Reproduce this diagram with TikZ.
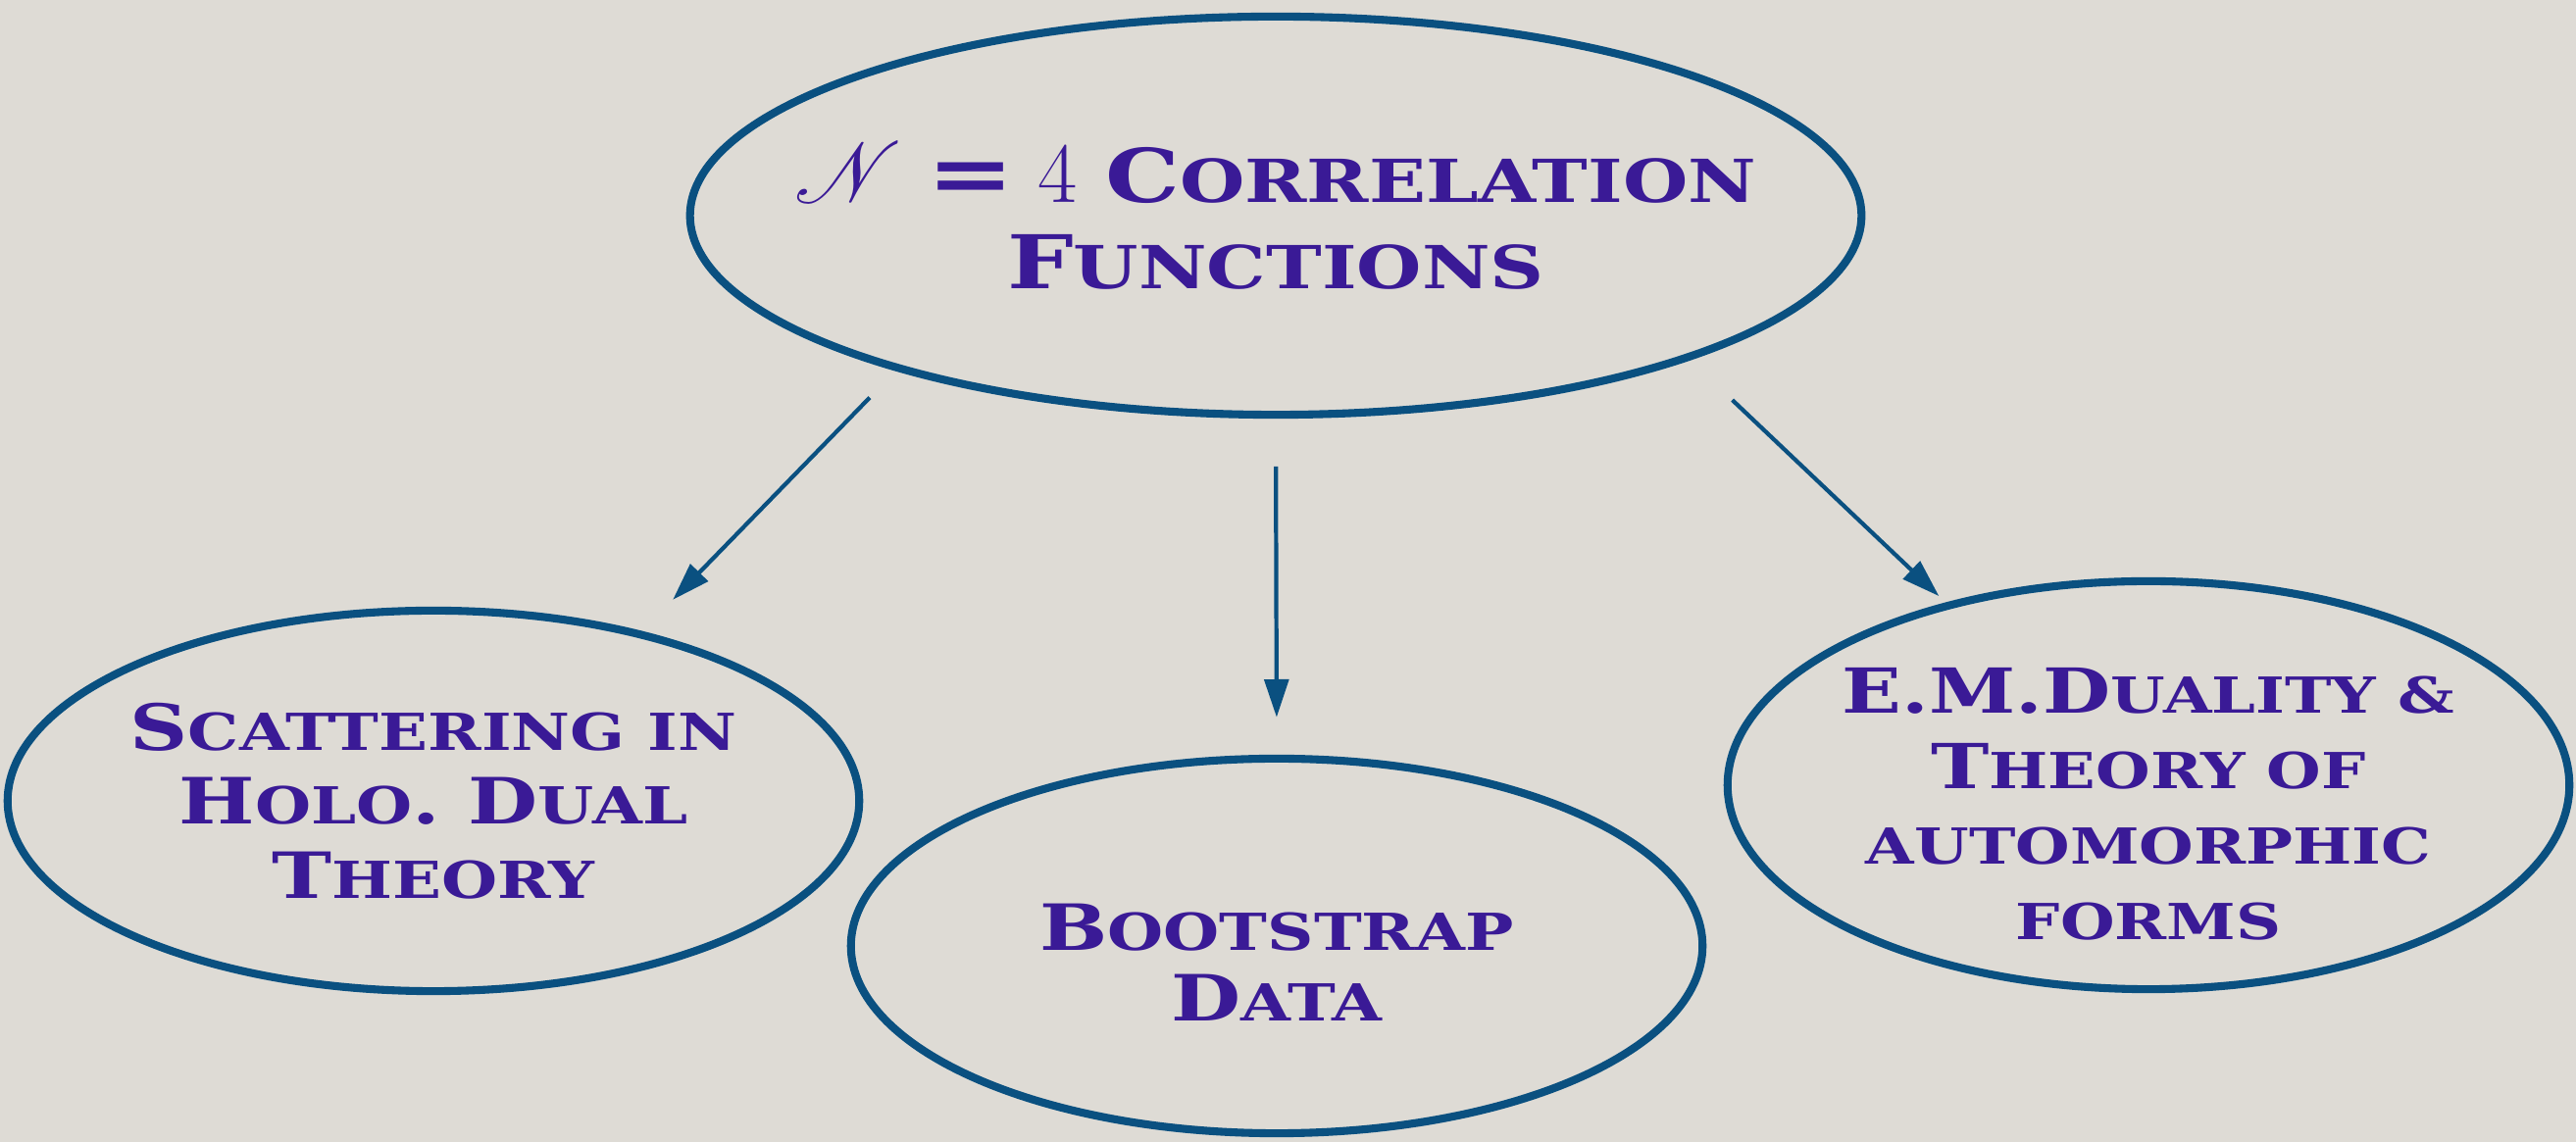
\documentclass[tikz,border=0pt]{standalone}
\usepackage{fontspec}
\setmainfont{DejaVu Serif}[FakeStretch=1.26]
\usepackage{mathrsfs}
\usetikzlibrary{arrows.meta,shapes.geometric}

\definecolor{paper}{RGB}{222,219,213}
\definecolor{brush}{RGB}{10,80,128}
\definecolor{ink}{RGB}{58,26,150}

% lower letters of the small caps
\makeatletter
\newcommand{\lowc}[1]{{\fontsize{\fpeval{0.8*\f@size}}{0}\selectfont #1}}
\makeatother

\begin{document}
\begin{tikzpicture}[x=0.01cm, y=-0.01cm,
  bubble/.style={ellipse, draw=brush, line width=2.3pt, inner sep=-40pt, outer sep=0pt,
    text=ink, align=center},
  link/.style={draw=brush, line width=1.2pt, -{Triangle[length=11pt,width=7pt]}}]
\fill[paper] (0,0) rectangle (2627,1165);
\useasboundingbox (0,0) rectangle (2627,1165);

\node[bubble, minimum width=11.94cm, minimum height=4.06cm,
  font=\bfseries\fontsize{21.5}{25}\selectfont] (top) at (1301,220)
  {{\fontsize{29}{25}\selectfont$\mathscr{N}$}\hspace{7pt}{\fontsize{24}{25}\selectfont =}\hspace{7pt}{\fontsize{26}{25}\selectfont$4$}\hspace{8pt}C\lowc{ORRELATION}\\F\lowc{UNCTIONS}};
\node[bubble, minimum width=8.68cm, minimum height=3.88cm,
  font=\bfseries\fontsize{18.5}{21.5}\selectfont] (holo) at (442,817)
  {S\lowc{CATTERING IN}\\H\lowc{OLO}. D\lowc{UAL}\\T\lowc{HEORY}};
\node[bubble, minimum width=8.68cm, minimum height=3.82cm,
  font=\bfseries\fontsize{18.5}{20.5}\selectfont, text height=43.6pt] (boot) at (1302,965)
  {B\lowc{OOTSTRAP}\\D\lowc{ATA}};
\node[bubble, minimum width=8.58cm, minimum height=4.16cm,
  font=\bfseries\fontsize{18}{21.9}\selectfont, text height=90pt] (emd) at (2191,801)
  {E.M.D\lowc{UALITY \&}\\T\lowc{HEORY OF}\\\lowc{AUTOMORPHIC}\\\lowc{FORMS}};

\draw[link, shorten <=12pt, shorten >=14pt] (top.202) -- (holo.39);
\draw[link, shorten <=15pt, shorten >=12pt] (top.south) -- (boot.north);
\draw[link, shorten <=18pt, shorten >=4pt] (top.341) -- (emd.138);
\end{tikzpicture}
\end{document}
